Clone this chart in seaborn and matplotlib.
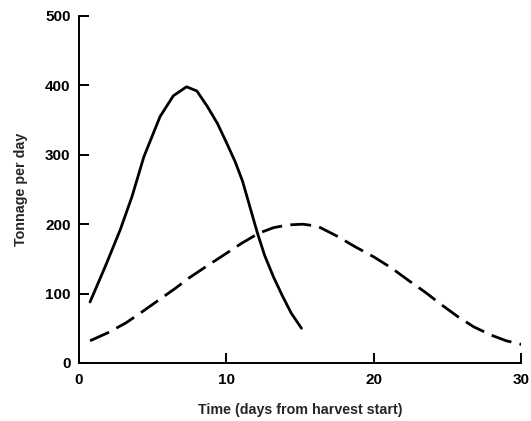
import pandas as pd
import matplotlib
matplotlib.use('Agg')
import matplotlib.pyplot as plt
import seaborn as sns

# Curva contínua (colheita curta)
dias_a = [0.75, 1.8, 2.8, 3.6, 4.4, 5.5, 6.4, 7.3, 8.0, 8.7, 9.4, 10.0, 10.6,
          11.1, 11.6, 12.1, 12.6, 13.2, 13.8, 14.4, 15.1]
ton_a = [88, 140, 192, 240, 297, 355, 385, 398, 392, 370, 345, 318, 290,
         262, 225, 188, 155, 124, 97, 72, 50]

# Curva tracejada (colheita longa)
dias_b = [0.75, 2.0, 3.2, 4.3, 5.5, 6.5, 7.5, 8.7, 10.0, 11.0, 12.2, 13.2, 14.2,
          15.2, 16.2, 17.5, 18.7, 20.0, 21.2, 22.3, 23.5, 24.6, 25.7, 26.8,
          28.0, 29.0, 30.2]
ton_b = [32, 44, 58, 74, 92, 107, 123, 140, 158, 172, 187, 195, 199,
         200, 197, 183, 168, 153, 137, 120, 102, 84, 67, 52,
         40, 32, 26]

x_ticks = [0, 10, 20, 30]
y_ticks = [0, 100, 200, 300, 400, 500]

df_a = pd.DataFrame({'dias': dias_a, 'ton': ton_a})
df_b = pd.DataFrame({'dias': dias_b, 'ton': ton_b})

sns.set_style("ticks")
plt.rcParams['font.family'] = ['Liberation Sans', 'DejaVu Sans']

fig = plt.figure(figsize=(5.31, 4.21), dpi=100)
ax = fig.add_axes([79 / 531, 58 / 421, 442 / 531, 347 / 421])

sns.lineplot(x='dias', y='ton', data=df_a, ax=ax, color='black', linewidth=2.0,
             sort=False)
sns.lineplot(x='dias', y='ton', data=df_b, ax=ax, color='black', linewidth=2.0,
             sort=False, dashes=False, linestyle=(0, (7.5, 3)))

ax.set_xlim(0, 30)
ax.set_ylim(0, 500)
ax.set_xticks(x_ticks)
ax.set_yticks(y_ticks)
ax.tick_params(direction='in', length=7, width=1.4, labelsize=11, colors='black')
ax.tick_params(axis='x', pad=7)
ax.tick_params(axis='y', pad=6)
for lab in ax.get_xticklabels() + ax.get_yticklabels():
    lab.set_fontweight('bold')
for s in ['left', 'bottom']:
    ax.spines[s].set_linewidth(1.4)
    ax.spines[s].set_color('black')
sns.despine(ax=ax)

ax.set_xlabel('Time (days from harvest start)', fontsize=10.3, fontweight='bold',
              labelpad=12)
ax.set_ylabel('Tonnage per day', fontsize=10.3, fontweight='bold', labelpad=12)

plt.savefig('out.png', dpi=100)
